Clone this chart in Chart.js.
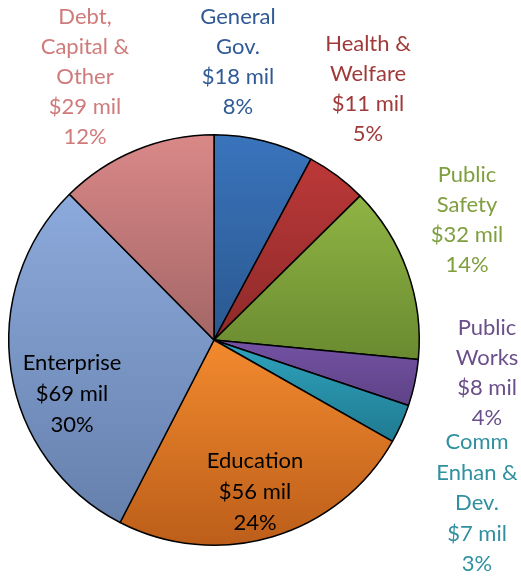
<!DOCTYPE html>
<html>
<head>
<meta charset="utf-8">
<script src="https://cdn.jsdelivr.net/npm/chart.js@4.4.1/dist/chart.umd.min.js"></script>
<style>
    html, body { margin: 0; padding: 0; background: #fff; }
    #wrap { width: 521px; height: 577px; }
</style>
</head>
<body>
<div id="wrap"><canvas id="pieChart" width="521" height="577"></canvas></div>
<script>
// spending by category, $ millions (clockwise from 12 o'clock)
const categories = ['General Gov.', 'Health & Welfare', 'Public Safety', 'Public Works',
    'Comm Enhan & Dev.', 'Education', 'Enterprise', 'Debt, Capital & Other'];
const amounts = [18, 11, 32, 8.4, 7, 56, 69, 28.6];
// how each category name is broken over lines in the labels
const nameLines = [
    ['General', 'Gov.'],
    ['Health &', 'Welfare'],
    ['Public', 'Safety'],
    ['Public', 'Works'],
    ['Comm', 'Enhan &', 'Dev.'],
    ['Education'],
    ['Enterprise'],
    ['Debt,', 'Capital &', 'Other']
];

// slice colours, light (top) to dark (bottom)
const topColors = ['#3a74bc', '#bc3838', '#90b444', '#7452a4', '#2ea4be', '#f28a2e', '#8caadc', '#da8888'];
const bottomColors = ['#2a5890', '#8e2a2a', '#6a8a30', '#5e4286', '#207a90', '#bc5e1a', '#6680ac', '#a46666'];
const labelColors = ['#2f5a96', '#a03a3a', '#7f9f3f', '#6a4f8a', '#3090a0', '#000000', '#000000', '#d07b7b'];
// label anchor (centre x, first line y) and line step
const labelPos = [[238, 17], [368, 44], [467, 175], [487, 328], [477, 442], [255, 461], [72, 363], [85, 17]];
const lineSteps = [30, 30, 30, 30, 30.5, 31, 31, 30];

const total = amounts.reduce((a, b) => a + b, 0);

function sliceGradient(context) {
    const chart = context.chart;
    const area = chart.chartArea;
    if (!area) return topColors[context.dataIndex];
    const i = context.dataIndex;
    const cx = (area.left + area.right) / 2;
    const cy = (area.top + area.bottom) / 2;
    const r = Math.min(area.right - area.left, area.bottom - area.top) / 2;
    let before = 0;
    for (let k = 0; k < i; k++) before += amounts[k];
    const a0 = -Math.PI / 2 + before / total * 2 * Math.PI;
    const a1 = a0 + amounts[i] / total * 2 * Math.PI;
    let ys = [cy, cy + r * Math.sin(a0), cy + r * Math.sin(a1)];
    if (a0 <= Math.PI / 2 && a1 >= Math.PI / 2) ys.push(cy + r);
    if (a0 <= -Math.PI / 2 + 1e-6) ys.push(cy - r);
    if (a0 <= 3 * Math.PI / 2 && a1 >= 3 * Math.PI / 2) ys.push(cy - r);
    const y0 = Math.min(...ys), y1 = Math.max(...ys);
    const g = chart.ctx.createLinearGradient(0, y0, 0, y1 + 0.01);
    g.addColorStop(0, topColors[i]);
    g.addColorStop(1, bottomColors[i]);
    return g;
}

const labelPlugin = {
    id: 'sliceLabels',
    afterDraw(chart) {
        const ctx = chart.ctx;
        ctx.save();
        ctx.font = '22px Lato, "Open Sans", sans-serif';
        ctx.textAlign = 'center';
        ctx.textBaseline = 'middle';
        amounts.forEach(function (v, i) {
            const lines = nameLines[i].concat(['$' + Math.round(v) + ' mil', Math.round(v / total * 100) + '%']);
            ctx.fillStyle = labelColors[i];
            lines.forEach(function (t, j) {
                ctx.fillText(t, labelPos[i][0], labelPos[i][1] + j * lineSteps[i]);
            });
        });
        ctx.restore();
    }
};

var ctx = document.getElementById('pieChart').getContext('2d');
var chart = new Chart(ctx, {
    type: 'pie',
    data: {
        labels: categories,
        datasets: [{
            data: amounts,
            backgroundColor: sliceGradient,
            borderColor: '#000',
            borderWidth: 1.5
        }]
    },
    options: {
        responsive: false,
        animation: false,
        layout: {
            padding: { left: 8, right: 101, top: 134, bottom: 31 }
        },
        plugins: {
            legend: { display: false },
            tooltip: { enabled: false }
        }
    },
    plugins: [labelPlugin]
});
</script>
</body>
</html>
